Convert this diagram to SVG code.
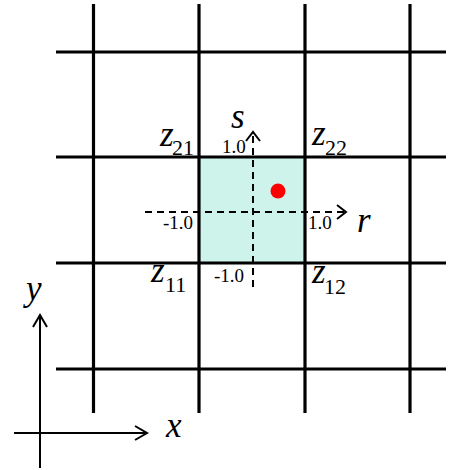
<svg xmlns="http://www.w3.org/2000/svg" width="451" height="470" viewBox="0 0 451 470">
<style>
.grid{stroke:#000;stroke-width:3.2;fill:none}
.dash{stroke:#000;stroke-width:2;stroke-dasharray:7,5;fill:none}
.ax{stroke:#000;stroke-width:2;fill:none}
.arr{stroke:#000;stroke-width:2;fill:none}
.it{font-style:italic;font-size:35px}
.sub{font-size:22px}
.num{font-size:19px}
</style>
<rect width="451" height="470" fill="#fff"/>
<g id="cell"><rect x="199" y="157" width="106" height="106" fill="#cef3ea"/></g>
<g id="grid">
<line class="grid" x1="93.5" y1="4" x2="93.5" y2="413"/>
<line class="grid" x1="199" y1="4" x2="199" y2="413"/>
<line class="grid" x1="305" y1="4" x2="305" y2="413"/>
<line class="grid" x1="410" y1="4" x2="410" y2="413"/>
<line class="grid" x1="56" y1="52" x2="446" y2="52"/>
<line class="grid" x1="56" y1="157" x2="446" y2="157"/>
<line class="grid" x1="56" y1="263" x2="446" y2="263"/>
<line class="grid" x1="56" y1="369" x2="446" y2="369"/>
</g>
<g id="connectors">
<line class="dash" x1="145" y1="212" x2="345" y2="212"/>
<polyline class="arr" points="337,205 346,212 337,219"/>
<line class="dash" x1="253" y1="287" x2="253" y2="134"/>
<polyline class="arr" points="246,141 253,132 260,141"/>
<line class="ax" x1="40" y1="468" x2="40" y2="316"/>
<polyline class="ax" points="33,327 40,315 47,327"/>
<line class="ax" x1="14" y1="433" x2="146" y2="433"/>
<polyline class="ax" points="135,426 147,433 135,440"/>
</g>
<g id="point"><circle cx="278" cy="191" r="7.5" fill="#f00"/></g>
<g id="labels" font-family="'Liberation Serif', 'Times New Roman', serif">
<text class="it" x="231" y="128">s</text>
<text class="it" x="357" y="232">r</text>
<text class="it" x="166" y="437">x</text>
<text class="it" x="26" y="300">y</text>
<text class="it" x="160" y="146">z</text><text class="sub" x="172" y="155">21</text>
<text class="it" x="312" y="145">z</text><text class="sub" x="325" y="155">22</text>
<text class="it" x="151" y="282">z</text><text class="sub" x="165" y="292">11</text>
<text class="it" x="312" y="283">z</text><text class="sub" x="324" y="294">12</text>
<text class="num" x="222" y="153">1.0</text>
<text class="num" x="163" y="229">-1.0</text>
<text class="num" x="308" y="229">1.0</text>
<text class="num" x="214" y="282">-1.0</text>
</g>
</svg>
